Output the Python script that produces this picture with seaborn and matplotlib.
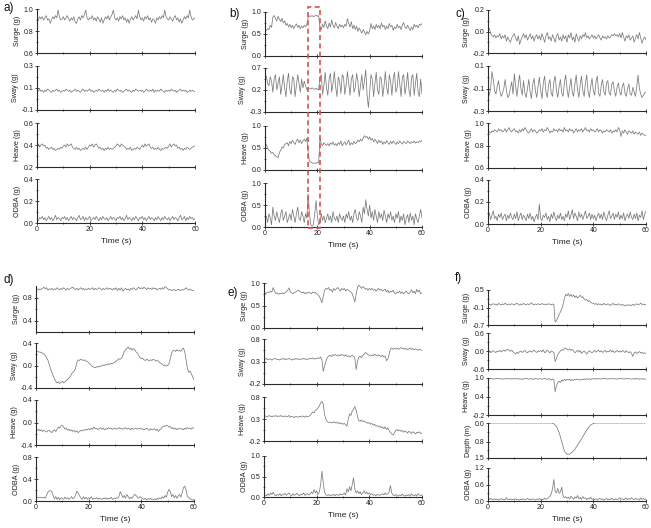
import numpy as np
import matplotlib
matplotlib.use("Agg")
import matplotlib.pyplot as plt
from matplotlib.patches import Rectangle
from matplotlib.ticker import FixedLocator, FormatStrFormatter
import seaborn as sns

# ---- panel a (samples every 0.5 s over 60 s) ----
a_surge = [0.92, 0.90, 0.93, 0.91, 0.93, 0.90, 0.92, 0.94, 0.90, 0.91, 0.87, 0.90, 0.93, 0.91, 0.94, 0.92, 0.99, 0.93, 0.90, 0.91,
           0.93, 0.90, 0.92, 0.94, 0.91, 0.89, 0.92, 0.90, 0.93, 0.88, 0.87, 0.91, 0.93, 0.90, 0.94, 0.92, 0.95, 0.99, 0.92, 0.90,
           0.92, 0.91, 0.94, 0.90, 0.92, 0.89, 0.93, 0.91, 0.88, 0.92, 0.87, 0.90, 0.93, 0.91, 0.94, 0.90, 0.93, 0.95, 0.99, 0.92,
           0.90, 0.92, 0.89, 0.93, 0.91, 0.94, 0.90, 0.92, 0.88, 0.91, 0.87, 0.91, 0.93, 0.90, 0.92, 0.94, 0.91, 0.99, 0.93, 0.90,
           0.92, 0.89, 0.93, 0.91, 0.94, 0.90, 0.92, 0.88, 0.91, 0.90, 0.87, 0.92, 0.90, 0.93, 0.91, 0.94, 0.92, 0.99, 0.93, 0.91,
           0.90, 0.93, 0.91, 0.89, 0.92, 0.94, 0.90, 0.92, 0.88, 0.91, 0.87, 0.90, 0.93, 0.91, 0.94, 0.92, 0.99, 0.93, 0.90, 0.91,
           0.92]
a_sway = [0.08, 0.07, 0.09, 0.07, 0.08, 0.06, 0.08, 0.07, 0.09, 0.08, 0.07, 0.06, 0.08, 0.07, 0.08, 0.09, 0.07, 0.08, 0.06, 0.07,
          0.08, 0.07, 0.09, 0.08, 0.07, 0.08, 0.06, 0.07, 0.08, 0.09, 0.07, 0.08, 0.07, 0.06, 0.08, 0.09, 0.07, 0.08, 0.07, 0.08,
          0.09, 0.07, 0.08, 0.06, 0.07, 0.08, 0.07, 0.09, 0.08, 0.07, 0.08, 0.06, 0.08, 0.07, 0.09, 0.07, 0.08, 0.07, 0.06, 0.08,
          0.07, 0.09, 0.08, 0.07, 0.08, 0.06, 0.07, 0.08, 0.09, 0.07, 0.08, 0.07, 0.06, 0.08, 0.07, 0.09, 0.08, 0.07, 0.08, 0.07,
          0.08, 0.06, 0.07, 0.09, 0.08, 0.07, 0.08, 0.07, 0.09, 0.06, 0.08, 0.07, 0.08, 0.07, 0.09, 0.08, 0.07, 0.06, 0.08, 0.07,
          0.08, 0.07, 0.09, 0.08, 0.07, 0.08, 0.06, 0.07, 0.08, 0.09, 0.07, 0.08, 0.07, 0.08, 0.06, 0.07, 0.08, 0.07, 0.08, 0.07,
          0.07]
a_heave = [0.39, 0.41, 0.38, 0.40, 0.41, 0.39, 0.40, 0.37, 0.38, 0.36, 0.37, 0.38, 0.36, 0.37, 0.35, 0.36, 0.37, 0.36, 0.38, 0.37,
           0.39, 0.40, 0.38, 0.41, 0.39, 0.40, 0.41, 0.38, 0.37, 0.36, 0.38, 0.36, 0.37, 0.35, 0.36, 0.37, 0.36, 0.38, 0.36, 0.38,
           0.40, 0.39, 0.41, 0.38, 0.40, 0.41, 0.39, 0.37, 0.38, 0.36, 0.37, 0.35, 0.37, 0.36, 0.38, 0.36, 0.37, 0.36, 0.37, 0.38,
           0.39, 0.41, 0.40, 0.38, 0.41, 0.40, 0.39, 0.38, 0.36, 0.37, 0.36, 0.38, 0.35, 0.36, 0.37, 0.36, 0.38, 0.37, 0.36, 0.38,
           0.40, 0.38, 0.41, 0.39, 0.40, 0.41, 0.38, 0.37, 0.38, 0.36, 0.37, 0.36, 0.38, 0.36, 0.35, 0.37, 0.36, 0.37, 0.38, 0.37,
           0.39, 0.41, 0.38, 0.40, 0.41, 0.39, 0.40, 0.37, 0.38, 0.36, 0.37, 0.35, 0.37, 0.36, 0.38, 0.37, 0.36, 0.37, 0.38, 0.39,
           0.39]
a_odba = [0.03, 0.02, 0.05, 0.04, 0.06, 0.03, 0.05, 0.02, 0.04, 0.06, 0.03, 0.05, 0.02, 0.04, 0.07, 0.03, 0.05, 0.04, 0.02, 0.05,
          0.04, 0.06, 0.03, 0.05, 0.02, 0.04, 0.06, 0.03, 0.05, 0.04, 0.02, 0.05, 0.07, 0.03, 0.04, 0.06, 0.02, 0.05, 0.03, 0.04,
          0.06, 0.02, 0.04, 0.05, 0.03, 0.06, 0.04, 0.02, 0.05, 0.03, 0.06, 0.04, 0.03, 0.05, 0.02, 0.04, 0.06, 0.03, 0.05, 0.04,
          0.02, 0.05, 0.04, 0.06, 0.03, 0.05, 0.02, 0.04, 0.07, 0.03, 0.05, 0.04, 0.02, 0.05, 0.03, 0.06, 0.04, 0.02, 0.05, 0.04,
          0.06, 0.03, 0.05, 0.02, 0.04, 0.06, 0.03, 0.05, 0.04, 0.02, 0.05, 0.03, 0.06, 0.04, 0.02, 0.05, 0.03, 0.06, 0.04, 0.03,
          0.05, 0.02, 0.04, 0.06, 0.03, 0.05, 0.04, 0.02, 0.05, 0.07, 0.03, 0.04, 0.06, 0.02, 0.05, 0.03, 0.06, 0.04, 0.05, 0.03,
          0.04]

# ---- panel b ----
b_surge = [0.55, 0.58, 0.62, 0.60, 0.70, 0.65, 0.88, 0.92, 0.85, 0.80, 0.90, 0.84, 0.78, 0.86, 0.75, 0.80, 0.70, 0.74, 0.66, 0.72,
           0.64, 0.70, 0.62, 0.68, 0.73, 0.65, 0.70, 0.62, 0.68, 0.64, 0.70, 0.66, 0.72, 0.88, 0.91, 0.90, 0.92, 0.89, 0.91, 0.93,
           0.90, 0.92, 0.66, 0.60, 0.72, 0.65, 0.80, 0.68, 0.62, 0.75, 0.66, 0.82, 0.70, 0.64, 0.76, 0.68, 0.62, 0.72, 0.66, 0.70,
           0.64, 0.72, 0.68, 0.85, 0.74, 0.66, 0.78, 0.62, 0.70, 0.60, 0.68, 0.56, 0.64, 0.58, 0.52, 0.60, 0.55, 0.48, 0.56, 0.50,
           0.58, 0.74, 0.62, 0.68, 0.60, 0.72, 0.64, 0.70, 0.62, 0.75, 0.66, 0.70, 0.60, 0.68, 0.62, 0.74, 0.66, 0.70, 0.58, 0.66,
           0.62, 0.72, 0.64, 0.68, 0.60, 0.70, 0.76, 0.66, 0.62, 0.70, 0.64, 0.58, 0.66, 0.60, 0.72, 0.66, 0.70, 0.64, 0.72, 0.70,
           0.74]
b_sway = [0.45, 0.52, 0.35, 0.30, 0.50, 0.40, 0.15, 0.45, 0.55, 0.20, 0.35, 0.50, 0.10, 0.30, 0.55, 0.25, 0.05, 0.40, 0.58, 0.20,
          0.10, 0.50, 0.45, 0.05, 0.30, 0.55, 0.35, 0.15, 0.45, 0.25, 0.40, 0.30, 0.20, 0.25, 0.24, 0.22, 0.25, 0.23, 0.21, 0.24,
          0.22, 0.20, 0.48, 0.55, 0.10, 0.30, 0.60, 0.25, 0.08, 0.45, 0.58, 0.15, 0.35, 0.62, 0.28, 0.05, 0.50, 0.40, 0.12, 0.55,
          0.50, 0.10, 0.30, 0.62, 0.35, 0.08, 0.45, 0.55, 0.15, 0.25, 0.58, 0.40, 0.05, 0.30, 0.55, 0.20, 0.40, 0.66, 0.10, -0.20,
          0.15, 0.55, 0.45, 0.05, 0.35, 0.60, 0.20, 0.10, 0.50, 0.45, 0.05, 0.30, 0.62, 0.25, 0.10, 0.55, 0.40, 0.08, 0.45, 0.60,
          0.15, 0.25, 0.62, 0.35, 0.05, 0.50, 0.55, 0.10, 0.30, 0.60, 0.20, 0.05, 0.48, 0.55, 0.08, 0.35, 0.58, 0.15, 0.05, 0.45,
          0.10]
b_heave = [0.60, 0.58, 0.50, 0.45, 0.42, 0.38, 0.40, 0.35, 0.32, 0.30, 0.28, 0.40, 0.45, 0.52, 0.50, 0.58, 0.60, 0.62, 0.55, 0.65,
           0.60, 0.68, 0.62, 0.58, 0.66, 0.70, 0.62, 0.68, 0.60, 0.66, 0.70, 0.65, 0.72, 0.40, 0.20, 0.18, 0.16, 0.15, 0.16, 0.15,
           0.17, 0.16, 0.72, 0.60, 0.55, 0.62, 0.58, 0.56, 0.60, 0.55, 0.62, 0.58, 0.64, 0.56, 0.60, 0.55, 0.62, 0.58, 0.66, 0.55,
           0.60, 0.64, 0.57, 0.62, 0.68, 0.56, 0.62, 0.58, 0.65, 0.60, 0.62, 0.68, 0.64, 0.70, 0.66, 0.72, 0.78, 0.74, 0.76, 0.70,
           0.75, 0.68, 0.72, 0.64, 0.70, 0.66, 0.60, 0.68, 0.62, 0.66, 0.58, 0.64, 0.60, 0.67, 0.62, 0.58, 0.65, 0.60, 0.66, 0.62,
           0.58, 0.64, 0.60, 0.66, 0.62, 0.59, 0.65, 0.62, 0.60, 0.66, 0.63, 0.60, 0.64, 0.62, 0.66, 0.61, 0.64, 0.62, 0.66, 0.64,
           0.68]
b_odba = [0.15, 0.25, 0.10, 0.30, 0.20, 0.05, 0.45, 0.25, 0.15, 0.35, 0.20, 0.10, 0.30, 0.40, 0.15, 0.25, 0.35, 0.10, 0.20, 0.30,
          0.15, 0.40, 0.25, 0.10, 0.30, 0.45, 0.20, 0.15, 0.35, 0.25, 0.10, 0.30, 0.20, 0.75, 0.30, 0.05, 0.02, 0.05, 0.30, 0.60,
          0.25, 0.05, 0.10, 0.30, 0.15, 0.25, 0.10, 0.20, 0.30, 0.15, 0.25, 0.10, 0.35, 0.20, 0.15, 0.25, 0.10, 0.30, 0.20, 0.15,
          0.25, 0.10, 0.30, 0.20, 0.35, 0.15, 0.25, 0.10, 0.30, 0.40, 0.20, 0.15, 0.35, 0.25, 0.10, 0.45, 0.30, 0.62, 0.40, 0.25,
          0.50, 0.20, 0.35, 0.15, 0.40, 0.25, 0.10, 0.35, 0.20, 0.30, 0.15, 0.38, 0.25, 0.10, 0.30, 0.20, 0.35, 0.15, 0.25, 0.10,
          0.30, 0.20, 0.35, 0.10, 0.25, 0.15, 0.30, 0.05, 0.20, 0.28, 0.10, 0.32, 0.15, 0.25, 0.05, 0.30, 0.18, 0.10, 0.25, 0.40,
          0.20]

# ---- panel c ----
c_surge = [0.02, 0.03, -0.02, -0.04, -0.05, -0.03, -0.06, -0.04, -0.05, -0.02, -0.07, -0.04, -0.06, -0.03, -0.09, -0.05, -0.08, -0.10, -0.06, -0.04,
           -0.02, -0.06, -0.09, -0.04, -0.12, -0.08, -0.05, -0.02, -0.06, -0.03, -0.08, -0.05, -0.02, -0.07, -0.04, -0.09, -0.05, -0.03, -0.07, -0.04,
           -0.08, -0.02, -0.06, -0.10, -0.04, -0.01, -0.07, -0.05, -0.09, -0.03, -0.06, -0.10, -0.04, -0.02, -0.08, -0.05, -0.09, -0.03, -0.07, -0.04,
           -0.10, -0.03, -0.06, -0.01, -0.08, -0.05, -0.10, -0.02, -0.06, -0.09, -0.04, -0.07, -0.03, -0.05, -0.01, -0.06, -0.04, -0.07, -0.05, -0.03,
           -0.06, -0.04, -0.07, -0.05, -0.03, -0.06, -0.08, -0.04, -0.06, -0.05, -0.07, -0.04, -0.06, -0.05, -0.03, -0.04, -0.02, -0.04, -0.03, -0.05,
           -0.02, -0.06, -0.01, -0.05, -0.09, -0.04, -0.06, -0.03, -0.08, -0.06, -0.04, -0.10, -0.06, -0.03, -0.07, -0.01, -0.06, -0.11, -0.07, -0.05,
           -0.08]
c_sway = [-0.12, -0.16, -0.10, 0.05, -0.02, -0.12, -0.15, -0.08, -0.03, -0.12, -0.17, -0.14, -0.10, -0.02, -0.12, -0.18, -0.16, -0.10, -0.04, -0.15,
          0.03, -0.08, -0.17, -0.06, 0.02, -0.10, -0.16, -0.03, -0.14, -0.18, -0.10, -0.02, -0.13, -0.19, -0.06, -0.01, -0.12, -0.18, -0.08, 0.00,
          -0.12, -0.19, -0.05, 0.01, -0.13, -0.18, -0.07, -0.02, -0.14, -0.17, -0.04, 0.01, -0.12, -0.18, -0.08, -0.02, -0.14, -0.17, -0.05, 0.02,
          -0.10, -0.18, -0.09, -0.01, -0.13, -0.17, -0.06, 0.02, -0.11, -0.18, -0.07, 0.01, -0.12, -0.17, -0.05, 0.02, -0.13, -0.18, -0.08, -0.01,
          -0.12, -0.16, -0.04, 0.01, -0.14, -0.17, -0.07, -0.02, -0.13, -0.16, -0.05, -0.03, -0.14, -0.16, -0.06, -0.04, -0.12, -0.17, -0.09, -0.05,
          -0.13, -0.16, -0.08, -0.05, -0.14, -0.17, -0.10, -0.06, -0.15, -0.16, -0.09, -0.13, -0.17, -0.08, 0.02, -0.10, -0.15, -0.18, -0.16, -0.14,
          -0.13]
c_heave = [0.94, 0.92, 0.91, 0.93, 0.92, 0.94, 0.93, 0.92, 0.95, 0.93, 0.94, 0.92, 0.93, 0.95, 0.92, 0.94, 0.96, 0.93, 0.92, 0.94,
           0.95, 0.92, 0.93, 0.91, 0.94, 0.92, 0.95, 0.93, 0.96, 0.94, 0.92, 0.91, 0.93, 0.95, 0.92, 0.94, 0.93, 0.91, 0.92, 0.94,
           0.93, 0.95, 0.92, 0.94, 0.93, 0.96, 0.94, 0.91, 0.93, 0.92, 0.95, 0.93, 0.94, 0.92, 0.95, 0.93, 0.94, 0.92, 0.96, 0.93,
           0.94, 0.92, 0.95, 0.93, 0.94, 0.91, 0.93, 0.95, 0.92, 0.94, 0.93, 0.95, 0.92, 0.94, 0.96, 0.93, 0.94, 0.92, 0.95, 0.93,
           0.94, 0.92, 0.93, 0.95, 0.92, 0.94, 0.93, 0.91, 0.93, 0.92, 0.94, 0.93, 0.92, 0.94, 0.91, 0.93, 0.92, 0.94, 0.92, 0.96,
           0.94, 0.88, 0.93, 0.91, 0.94, 0.92, 0.90, 0.93, 0.92, 0.91, 0.93, 0.90, 0.92, 0.91, 0.90, 0.92, 0.89, 0.91, 0.90, 0.89,
           0.89]
c_odba = [0.06, 0.10, 0.04, 0.08, 0.12, 0.05, 0.07, 0.03, 0.09, 0.06, 0.10, 0.04, 0.07, 0.09, 0.03, 0.08, 0.05, 0.10, 0.06, 0.04,
          0.09, 0.05, 0.11, 0.03, 0.07, 0.10, 0.04, 0.08, 0.06, 0.03, 0.09, 0.05, 0.10, 0.04, 0.07, 0.02, 0.06, 0.09, 0.04, 0.18,
          0.05, 0.03, 0.08, 0.06, 0.10, 0.04, 0.07, 0.02, 0.09, 0.05, 0.11, 0.06, 0.03, 0.08, 0.05, 0.10, 0.04, 0.07, 0.03, 0.09,
          0.06, 0.12, 0.04, 0.08, 0.13, 0.05, 0.10, 0.07, 0.03, 0.11, 0.06, 0.09, 0.04, 0.08, 0.12, 0.05, 0.07, 0.10, 0.04, 0.09,
          0.05, 0.08, 0.03, 0.07, 0.10, 0.05, 0.09, 0.04, 0.11, 0.06, 0.03, 0.08, 0.12, 0.05, 0.07, 0.10, 0.04, 0.09, 0.06, 0.11,
          0.04, 0.08, 0.05, 0.10, 0.03, 0.07, 0.09, 0.05, 0.11, 0.06, 0.04, 0.09, 0.05, 0.10, 0.03, 0.08, 0.06, 0.12, 0.04, 0.09,
          0.12]

# ---- panel d ----
d_surge = [0.94, 0.95, 0.93, 0.95, 0.94, 0.96, 0.98, 0.95, 0.97, 0.93, 0.95, 0.94, 0.96, 0.93, 0.95, 0.94, 0.97, 0.95, 0.93, 0.96,
           0.94, 0.97, 0.95, 0.93, 0.96, 0.94, 0.95, 0.97, 0.98, 0.95, 0.94, 0.96, 0.93, 0.95, 0.97, 0.94, 0.96, 0.93, 0.95, 0.94,
           0.96, 0.94, 0.95, 0.97, 0.93, 0.96, 0.94, 0.95, 0.97, 0.95, 0.93, 0.96, 0.94, 0.95, 0.97, 0.94, 0.96, 0.95, 0.93, 0.96,
           0.94, 0.97, 0.92, 0.96, 0.93, 0.97, 0.91, 0.94, 0.96, 0.93, 0.95, 0.92, 0.96, 0.94, 0.97, 0.95, 0.93, 0.96, 0.98, 0.95,
           0.97, 0.95, 0.98, 0.96, 0.94, 0.97, 0.95, 0.96, 0.94, 0.97, 0.95, 0.96, 0.93, 0.95, 0.96, 0.94, 0.97, 0.95, 0.99, 0.97,
           0.95, 0.93, 0.94, 0.92, 0.93, 0.94, 0.92, 0.93, 0.94, 0.93, 0.92, 0.94, 0.93, 0.95, 0.97, 0.94, 0.93, 0.95, 0.93, 0.92,
           0.93]
d_sway = [0.25, 0.25, 0.24, 0.24, 0.23, 0.22, 0.20, 0.18, 0.14, 0.10, 0.02, -0.05, -0.12, -0.18, -0.24, -0.28, -0.31, -0.29, -0.32, -0.30,
          -0.28, -0.31, -0.29, -0.27, -0.25, -0.22, -0.20, -0.15, -0.12, -0.10, -0.05, 0.05, 0.10, 0.09, 0.11, 0.10, 0.09, 0.10, 0.08, 0.07,
          0.05, 0.02, 0.00, -0.02, -0.03, -0.04, -0.02, -0.03, -0.01, -0.02, 0.00, 0.01, 0.00, 0.02, 0.01, 0.03, 0.02, 0.04, 0.03, 0.05,
          0.06, 0.08, 0.10, 0.12, 0.11, 0.13, 0.18, 0.25, 0.28, 0.30, 0.33, 0.29, 0.31, 0.27, 0.30, 0.28, 0.24, 0.22, 0.18, 0.14,
          0.12, 0.13, 0.10, 0.09, 0.11, 0.10, 0.08, 0.10, 0.09, 0.11, 0.10, 0.08, 0.09, 0.07, 0.05, 0.04, 0.02, 0.00, 0.01, -0.01,
          0.00, 0.03, 0.12, 0.22, 0.26, 0.27, 0.25, 0.28, 0.26, 0.27, 0.25, 0.29, 0.31, 0.24, 0.10, -0.05, -0.12, -0.10, -0.15, -0.20,
          -0.25]
d_heave = [-0.12, -0.14, -0.12, -0.15, -0.13, -0.16, -0.14, -0.15, -0.17, -0.15, -0.14, -0.16, -0.18, -0.15, -0.13, -0.16, -0.12, -0.08, -0.10, -0.06,
           -0.05, -0.08, -0.12, -0.10, -0.14, -0.12, -0.15, -0.13, -0.16, -0.14, -0.17, -0.15, -0.18, -0.16, -0.14, -0.15, -0.13, -0.14, -0.12, -0.13,
           -0.11, -0.13, -0.10, -0.12, -0.08, -0.11, -0.10, -0.13, -0.11, -0.09, -0.12, -0.10, -0.13, -0.11, -0.12, -0.09, -0.11, -0.10, -0.12, -0.11,
           -0.10, -0.12, -0.11, -0.09, -0.11, -0.10, -0.12, -0.11, -0.09, -0.12, -0.10, -0.11, -0.13, -0.10, -0.12, -0.11, -0.10, -0.12, -0.11, -0.10,
           -0.12, -0.11, -0.13, -0.12, -0.10, -0.12, -0.14, -0.11, -0.13, -0.12, -0.11, -0.14, -0.12, -0.16, -0.13, -0.11, -0.08, -0.06, -0.07, -0.05,
           -0.06, -0.08, -0.07, -0.11, -0.09, -0.12, -0.10, -0.13, -0.11, -0.10, -0.12, -0.11, -0.13, -0.10, -0.12, -0.09, -0.11, -0.10, -0.12, -0.09,
           -0.10]
d_odba = [0.06, 0.07, 0.06, 0.07, 0.06, 0.06, 0.07, 0.05, 0.10, 0.16, 0.18, 0.19, 0.17, 0.10, 0.04, 0.08, 0.03, 0.07, 0.02, 0.06,
          0.05, 0.03, 0.07, 0.04, 0.06, 0.03, 0.05, 0.08, 0.04, 0.06, 0.10, 0.18, 0.15, 0.10, 0.06, 0.03, 0.08, 0.04, 0.07, 0.03,
          0.06, 0.04, 0.08, 0.03, 0.05, 0.04, 0.06, 0.03, 0.05, 0.04, 0.03, 0.05, 0.04, 0.06, 0.03, 0.05, 0.04, 0.07, 0.03, 0.05,
          0.04, 0.06, 0.05, 0.08, 0.17, 0.12, 0.06, 0.10, 0.05, 0.12, 0.08, 0.04, 0.07, 0.05, 0.09, 0.12, 0.10, 0.07, 0.05, 0.08,
          0.06, 0.04, 0.03, 0.05, 0.02, 0.04, 0.03, 0.05, 0.02, 0.03, 0.04, 0.02, 0.05, 0.03, 0.06, 0.04, 0.08, 0.05, 0.10, 0.07,
          0.16, 0.21, 0.17, 0.08, 0.12, 0.06, 0.10, 0.05, 0.09, 0.12, 0.07, 0.15, 0.24, 0.27, 0.20, 0.08, 0.06, 0.04, 0.03, 0.02,
          0.02]

# ---- panel e ----
e_surge = [0.80, 0.76, 0.78, 0.80, 0.79, 0.82, 0.80, 0.90, 0.82, 0.76, 0.78, 0.75, 0.77, 0.76, 0.78, 0.76, 0.79, 0.80, 0.84, 0.89,
           0.80, 0.78, 0.76, 0.79, 0.80, 0.82, 0.84, 0.82, 0.80, 0.78, 0.80, 0.76, 0.79, 0.77, 0.80, 0.78, 0.76, 0.80, 0.78, 0.79,
           0.76, 0.74, 0.70, 0.64, 0.56, 0.70, 0.84, 0.88, 0.86, 0.90, 0.84, 0.86, 0.80, 0.88, 0.84, 0.87, 0.90, 0.86, 0.82, 0.88,
           0.85, 0.88, 0.82, 0.86, 0.84, 0.82, 0.80, 0.76, 0.68, 0.58, 0.75, 0.90, 0.95, 0.92, 0.88, 0.92, 0.90, 0.86, 0.88, 0.84,
           0.88, 0.85, 0.88, 0.84, 0.86, 0.82, 0.85, 0.88, 0.84, 0.86, 0.82, 0.84, 0.86, 0.80, 0.84, 0.78, 0.82, 0.80, 0.84, 0.78,
           0.76, 0.80, 0.78, 0.82, 0.77, 0.80, 0.76, 0.79, 0.82, 0.78, 0.76, 0.80, 0.85, 0.78, 0.82, 0.76, 0.86, 0.80, 0.84, 0.76,
           0.78]
e_sway = [0.36, 0.35, 0.37, 0.34, 0.35, 0.36, 0.33, 0.35, 0.37, 0.36, 0.34, 0.35, 0.33, 0.36, 0.35, 0.37, 0.34, 0.36, 0.35, 0.37,
          0.35, 0.33, 0.36, 0.34, 0.37, 0.35, 0.36, 0.34, 0.36, 0.35, 0.37, 0.36, 0.34, 0.36, 0.35, 0.37, 0.36, 0.38, 0.35, 0.37,
          0.36, 0.38, 0.37, 0.40, 0.34, 0.08, 0.20, 0.30, 0.38, 0.42, 0.44, 0.41, 0.45, 0.43, 0.46, 0.44, 0.42, 0.45, 0.43, 0.46,
          0.44, 0.42, 0.45, 0.41, 0.43, 0.40, 0.42, 0.44, 0.41, 0.38, 0.12, 0.30, 0.40, 0.42, 0.38, 0.44, 0.46, 0.50, 0.48, 0.45,
          0.44, 0.42, 0.45, 0.43, 0.46, 0.44, 0.42, 0.45, 0.43, 0.41, 0.44, 0.40, 0.42, 0.32, 0.35, 0.45, 0.58, 0.60, 0.57, 0.59,
          0.58, 0.60, 0.57, 0.59, 0.61, 0.58, 0.60, 0.57, 0.59, 0.56, 0.58, 0.60, 0.57, 0.59, 0.56, 0.58, 0.57, 0.55, 0.57, 0.56,
          0.54]
e_heave = [0.36, 0.37, 0.35, 0.36, 0.38, 0.36, 0.35, 0.37, 0.36, 0.38, 0.35, 0.37, 0.36, 0.38, 0.35, 0.36, 0.37, 0.35, 0.36, 0.38,
           0.34, 0.36, 0.35, 0.33, 0.36, 0.35, 0.34, 0.36, 0.35, 0.37, 0.36, 0.34, 0.37, 0.35, 0.36, 0.38, 0.42, 0.46, 0.44, 0.50,
           0.52, 0.55, 0.60, 0.66, 0.70, 0.64, 0.40, 0.30, 0.24, 0.22, 0.23, 0.21, 0.22, 0.24, 0.21, 0.23, 0.20, 0.22, 0.19, 0.21,
           0.18, 0.20, 0.17, 0.14, 0.30, 0.42, 0.38, 0.48, 0.52, 0.58, 0.50, 0.36, 0.26, 0.25, 0.28, 0.24, 0.26, 0.23, 0.22, 0.20,
           0.22, 0.18, 0.20, 0.16, 0.18, 0.14, 0.15, 0.12, 0.14, 0.10, 0.12, 0.08, 0.12, 0.06, 0.10, 0.04, 0.00, -0.04, -0.06, -0.02,
           0.04, 0.06, 0.03, 0.05, 0.02, 0.04, 0.00, 0.03, 0.01, -0.02, 0.02, 0.00, -0.03, 0.01, -0.01, -0.04, 0.00, -0.02, 0.01, -0.03,
           -0.02]
e_odba = [0.02, 0.05, 0.03, 0.08, 0.04, 0.10, 0.06, 0.12, 0.05, 0.03, 0.06, 0.04, 0.08, 0.03, 0.06, 0.05, 0.09, 0.04, 0.07, 0.10,
          0.05, 0.03, 0.08, 0.04, 0.06, 0.09, 0.05, 0.03, 0.07, 0.05, 0.10, 0.04, 0.06, 0.08, 0.05, 0.07, 0.12, 0.08, 0.18, 0.10,
          0.15, 0.06, 0.12, 0.30, 0.63, 0.35, 0.12, 0.05, 0.04, 0.06, 0.03, 0.05, 0.04, 0.07, 0.03, 0.06, 0.05, 0.04, 0.08, 0.05,
          0.06, 0.10, 0.05, 0.20, 0.12, 0.25, 0.15, 0.30, 0.47, 0.20, 0.10, 0.15, 0.08, 0.13, 0.06, 0.10, 0.15, 0.08, 0.12, 0.07,
          0.10, 0.05, 0.08, 0.04, 0.06, 0.03, 0.07, 0.05, 0.04, 0.06, 0.08, 0.05, 0.10, 0.06, 0.08, 0.12, 0.28, 0.10, 0.05, 0.03,
          0.06, 0.04, 0.02, 0.05, 0.03, 0.07, 0.04, 0.02, 0.05, 0.03, 0.06, 0.02, 0.08, 0.04, 0.03, 0.06, 0.02, 0.08, 0.05, 0.03,
          0.06]

# ---- panel f ----
f_surge = [-0.01, 0.02, -0.02, 0.01, 0.03, 0.00, 0.02, -0.02, 0.04, 0.01, -0.01, 0.02, 0.00, 0.05, 0.01, -0.01, 0.02, 0.00, 0.03, 0.01,
           -0.01, 0.02, 0.05, 0.01, -0.02, 0.02, 0.00, 0.04, 0.01, -0.01, 0.03, 0.00, 0.02, 0.06, 0.01, -0.01, 0.02, 0.00, 0.03, 0.01,
           0.00, 0.04, 0.01, -0.01, 0.02, 0.00, 0.03, 0.01, -0.01, 0.02, 0.00, -0.60, -0.55, -0.45, -0.35, -0.25, -0.15, 0.00, 0.20, 0.35,
           0.30, 0.38, 0.28, 0.35, 0.27, 0.33, 0.24, 0.30, 0.22, 0.27, 0.32, 0.24, 0.27, 0.19, 0.15, 0.18, 0.11, 0.13, 0.08, 0.05,
           0.05, 0.01, 0.04, -0.01, 0.03, 0.00, 0.02, -0.02, 0.04, 0.01, -0.01, 0.03, 0.00, -0.03, 0.01, 0.04, -0.01, 0.01, -0.02, 0.03,
           0.00, -0.03, 0.01, -0.02, -0.05, -0.01, -0.03, 0.00, -0.04, -0.02, 0.01, -0.03, 0.00, 0.03, -0.01, 0.01, 0.05, 0.00, 0.02, -0.01,
           0.01]
f_sway = [-0.04, 0.00, -0.06, -0.02, 0.01, -0.03, -0.05, 0.00, -0.02, 0.02, -0.03, 0.00, 0.03, -0.01, 0.04, 0.06, 0.02, -0.01, 0.03, -0.02,
          -0.06, -0.10, -0.04, -0.08, -0.02, 0.00, -0.05, -0.01, 0.02, -0.03, -0.06, -0.02, 0.01, -0.04, 0.00, 0.03, -0.02, -0.05, 0.01, -0.02,
          0.02, -0.03, 0.04, -0.06, -0.02, 0.03, -0.01, -0.07, 0.00, -0.02, -0.05, -0.35, -0.25, -0.12, -0.05, 0.00, 0.04, 0.02, 0.08, 0.10,
          0.06, 0.03, 0.07, 0.02, 0.05, 0.00, -0.06, -0.02, 0.03, -0.04, 0.02, -0.08, -0.03, 0.00, -0.05, -0.10, -0.04, 0.01, -0.03, -0.06,
          -0.02, 0.02, -0.04, 0.00, 0.03, -0.03, 0.01, -0.05, -0.01, 0.02, -0.04, 0.00, -0.02, 0.03, -0.03, 0.01, -0.05, -0.02, 0.02, -0.03,
          0.00, -0.04, 0.02, -0.01, -0.05, 0.01, -0.03, -0.06, -0.02, -0.08, -0.18, -0.06, -0.03, -0.08, -0.05, -0.02, -0.07, -0.04, -0.09, -0.06,
          -0.08]
f_heave = [0.98, 0.97, 0.99, 0.98, 0.96, 0.98, 0.97, 0.99, 0.98, 0.97, 0.98, 0.96, 0.98, 0.97, 0.99, 0.98, 0.97, 0.98, 0.96, 0.98,
           0.97, 0.99, 0.98, 0.96, 0.98, 0.97, 0.95, 0.98, 0.97, 0.99, 0.98, 0.96, 0.97, 0.98, 0.95, 0.97, 0.99, 0.98, 0.96, 0.97,
           0.98, 0.96, 0.97, 0.99, 0.97, 0.95, 0.98, 0.96, 0.93, 0.97, 0.95, 0.55, 0.75, 0.85, 0.90, 0.86, 0.93, 0.90, 0.96, 0.92,
           0.96, 0.93, 0.97, 0.91, 0.95, 0.92, 0.96, 0.94, 0.97, 0.95, 0.93, 0.96, 0.94, 0.97, 0.95, 0.98, 0.96, 0.97, 0.95, 0.98,
           0.97, 0.98, 0.96, 0.99, 0.97, 0.98, 0.96, 0.98, 0.99, 0.97, 0.98, 0.96, 0.98, 0.97, 0.99, 0.98, 0.97, 0.98, 0.96, 0.98,
           0.97, 0.99, 0.98, 0.96, 0.98, 0.97, 0.99, 0.98, 0.96, 0.97, 0.98, 0.96, 0.99, 0.97, 0.98, 0.96, 0.97, 0.98, 0.96, 0.97,
           0.96]
# depth sampled once per second
f_depth = [0.0, 0.0, 0.0, 0.0, 0.0, 0.0, 0.0, 0.0, 0.0, 0.0, 0.0, 0.0, 0.0, 0.0, 0.0, 0.0, 0.0, 0.0, 0.0, 0.0,
           0.0, 0.0, 0.0, 0.0, 0.0, 0.03, 0.15, 0.40, 0.80, 1.20, 1.35, 1.33, 1.25, 1.12, 0.95, 0.78, 0.58, 0.40, 0.22, 0.08,
           0.02, 0.0, 0.0, 0.0, 0.0, 0.0, 0.0, 0.0, 0.0, 0.0, 0.0, 0.0, 0.0, 0.0, 0.0, 0.0, 0.0, 0.0, 0.0, 0.0,
           0.0]
f_odba = [0.08, 0.05, 0.10, 0.06, 0.04, 0.08, 0.05, 0.07, 0.03, 0.06, 0.09, 0.05, 0.07, 0.04, 0.12, 0.06, 0.05, 0.08, 0.04, 0.07,
          0.05, 0.09, 0.04, 0.06, 0.03, 0.07, 0.05, 0.08, 0.04, 0.06, 0.10, 0.05, 0.07, 0.04, 0.08, 0.06, 0.03, 0.07, 0.05, 0.09,
          0.04, 0.07, 0.05, 0.10, 0.06, 0.08, 0.12, 0.18, 0.25, 0.45, 0.78, 0.35, 0.30, 0.46, 0.28, 0.33, 0.50, 0.18, 0.12, 0.16,
          0.10, 0.14, 0.08, 0.18, 0.12, 0.06, 0.15, 0.10, 0.20, 0.08, 0.13, 0.06, 0.16, 0.09, 0.12, 0.05, 0.10, 0.07, 0.14, 0.06,
          0.09, 0.05, 0.08, 0.04, 0.07, 0.10, 0.05, 0.08, 0.03, 0.06, 0.09, 0.04, 0.07, 0.05, 0.10, 0.06, 0.04, 0.08, 0.05, 0.07,
          0.12, 0.06, 0.09, 0.04, 0.08, 0.11, 0.05, 0.09, 0.06, 0.12, 0.07, 0.05, 0.10, 0.06, 0.08, 0.04, 0.11, 0.06, 0.09, 0.05,
          0.08]

x_ticks = [0, 20, 40, 60]
box_t = (16.4, 21.0)  # highlighted interval in panel b (s)

W, H = 651, 528
LINE = "#7a7a7a"
AXC = "#2a2a2a"

sns.set_style("ticks")
plt.rcParams["font.family"] = ["Liberation Sans", "DejaVu Sans"]
plt.rcParams["axes.unicode_minus"] = False


def rect(x0, x1, y0, y1):
    return [x0 / W, 1 - y1 / H, (x1 - x0) / W, (y1 - y0) / H]


def trace(fig, r, values, label, ylim, yticks, bottom=False, invert=False):
    ax = fig.add_axes(r)
    t = np.linspace(0, 60, len(values))
    sns.lineplot(x=t, y=values, ax=ax, color=LINE, linewidth=0.55)
    ax.set_xlim(0, 60)
    ax.set_ylim(ylim[1], ylim[0]) if invert else ax.set_ylim(*ylim)
    ax.xaxis.set_major_locator(FixedLocator(x_ticks))
    ax.xaxis.set_minor_locator(FixedLocator([10, 30, 50]))
    ax.yaxis.set_major_locator(FixedLocator(yticks))
    mids = [(a + b) / 2 for a, b in zip(yticks[:-1], yticks[1:])]
    ax.yaxis.set_minor_locator(FixedLocator(mids))
    ax.yaxis.set_major_formatter(FormatStrFormatter("%.1f"))
    sns.despine(ax=ax)
    for s in ("left", "bottom"):
        ax.spines[s].set_color(AXC)
        ax.spines[s].set_linewidth(0.8)
    ax.tick_params(which="major", direction="inout", length=3, width=0.6,
                   labelsize=5.0, pad=1, color=AXC, labelcolor="#222222")
    ax.tick_params(which="minor", direction="inout", length=1.8, width=0.5, color=AXC)
    ax.tick_params(axis="x", labelbottom=bottom)
    ax.set_ylabel(label, fontsize=5.2, labelpad=2, color="#222222")
    ax.set_xlabel("Time (s)" if bottom else "", fontsize=6.0, labelpad=3, color="#222222")
    return ax


fig = plt.figure(figsize=(W / 100, H / 100), dpi=100)

# top row
rows_a = [(9, 53), (66, 110), (123, 167), (179, 223)]
trace(fig, rect(37, 195, *rows_a[0]), a_surge, "Surge (g)", (0.6, 1.0), [0.6, 0.8, 1.0])
trace(fig, rect(37, 195, *rows_a[1]), a_sway, "Sway (g)", (-0.1, 0.3), [-0.1, 0.1, 0.3])
trace(fig, rect(37, 195, *rows_a[2]), a_heave, "Heave (g)", (0.2, 0.6), [0.2, 0.4, 0.6])
trace(fig, rect(37, 195, *rows_a[3]), a_odba, "ODBA (g)", (0.0, 0.4), [0.0, 0.2, 0.4], bottom=True)

rows_b = [(12, 56), (68, 112), (126, 170), (183, 227)]
axb = [
    trace(fig, rect(265, 422, *rows_b[0]), b_surge, "Surge (g)", (0.0, 1.0), [0.0, 0.5, 1.0]),
    trace(fig, rect(265, 422, *rows_b[1]), b_sway, "Sway (g)", (-0.3, 0.7), [-0.3, 0.2, 0.7]),
    trace(fig, rect(265, 422, *rows_b[2]), b_heave, "Heave (g)", (0.0, 1.0), [0.0, 0.5, 1.0]),
    trace(fig, rect(265, 422, *rows_b[3]), b_odba, "ODBA (g)", (0.0, 1.0), [0.0, 0.5, 1.0], bottom=True),
]

rows_c = [(10, 53), (66, 111), (123, 168), (180, 224)]
trace(fig, rect(488, 646, *rows_c[0]), c_surge, "Surge (g)", (-0.2, 0.2), [-0.2, 0.0, 0.2])
trace(fig, rect(488, 646, *rows_c[1]), c_sway, "Sway (g)", (-0.3, 0.1), [-0.3, -0.1, 0.1])
trace(fig, rect(488, 646, *rows_c[2]), c_heave, "Heave (g)", (0.6, 1.0), [0.6, 0.8, 1.0])
trace(fig, rect(488, 646, *rows_c[3]), c_odba, "ODBA (g)", (0.0, 0.4), [0.0, 0.2, 0.4], bottom=True)

# bottom row
rows_d = [(286, 332), (343, 388), (400, 445), (457, 501)]
trace(fig, rect(36, 194, *rows_d[0]), d_surge, "Surge (g)", (0.2, 1.0), [0.4, 0.8])
trace(fig, rect(36, 194, *rows_d[1]), d_sway, "Sway (g)", (-0.4, 0.4), [-0.4, 0.0, 0.4])
trace(fig, rect(36, 194, *rows_d[2]), d_heave, "Heave (g)", (-0.4, 0.4), [-0.4, 0.0, 0.4])
trace(fig, rect(36, 194, *rows_d[3]), d_odba, "ODBA (g)", (0.0, 0.8), [0.0, 0.4, 0.8], bottom=True)

rows_e = [(283, 328), (339, 384), (397, 441), (456, 497)]
trace(fig, rect(264, 422, *rows_e[0]), e_surge, "Surge (g)", (0.0, 1.0), [0.0, 0.5, 1.0])
trace(fig, rect(264, 422, *rows_e[1]), e_sway, "Sway (g)", (-0.2, 0.8), [-0.2, 0.3, 0.8])
trace(fig, rect(264, 422, *rows_e[2]), e_heave, "Heave (g)", (-0.2, 0.8), [-0.2, 0.3, 0.8])
trace(fig, rect(264, 422, *rows_e[3]), e_odba, "ODBA (g)", (0.0, 1.0), [0.0, 0.5, 1.0], bottom=True)

rows_f = [(290, 325), (333, 369), (378, 415), (423, 458), (468, 501)]
trace(fig, rect(488, 646, *rows_f[0]), f_surge, "Surge (g)", (-0.7, 0.5), [-0.7, -0.1, 0.5])
trace(fig, rect(488, 646, *rows_f[1]), f_sway, "Sway (g)", (-0.6, 0.6), [-0.6, 0.0, 0.6])
trace(fig, rect(488, 646, *rows_f[2]), f_heave, "Heave (g)", (-0.2, 1.0), [-0.2, 0.4, 1.0])
trace(fig, rect(488, 646, *rows_f[3]), f_depth, "Depth (m)", (0.0, 1.5), [0.0, 0.8, 1.5], invert=True)
trace(fig, rect(488, 646, *rows_f[4]), f_odba, "ODBA (g)", (0.0, 1.2), [0.0, 0.6, 1.2], bottom=True)

# dashed box over the highlighted interval in panel b
to_fig = fig.transFigure.inverted()
x0 = to_fig.transform(axb[0].transData.transform((box_t[0], 0)))[0]
x1 = to_fig.transform(axb[0].transData.transform((box_t[1], 0)))[0]
y_top = 1 - 7 / H
y_bot = 1 - 228 / H
fig.patches.append(Rectangle((x0, y_bot), x1 - x0, y_top - y_bot, transform=fig.transFigure,
                             fill=False, edgecolor="#d9534f", linestyle=(0, (3, 2)), linewidth=1.2))

# panel letters
for letter, (px, py) in zip("abcdef", [(3, 8), (229, 14), (455, 14), (4, 280), (228, 293), (455, 278)]):
    fig.text(px / W, 1 - py / H, letter + ")", fontsize=8.5, va="center", ha="left", color="#111111")

fig.savefig("out.png", dpi=100)
